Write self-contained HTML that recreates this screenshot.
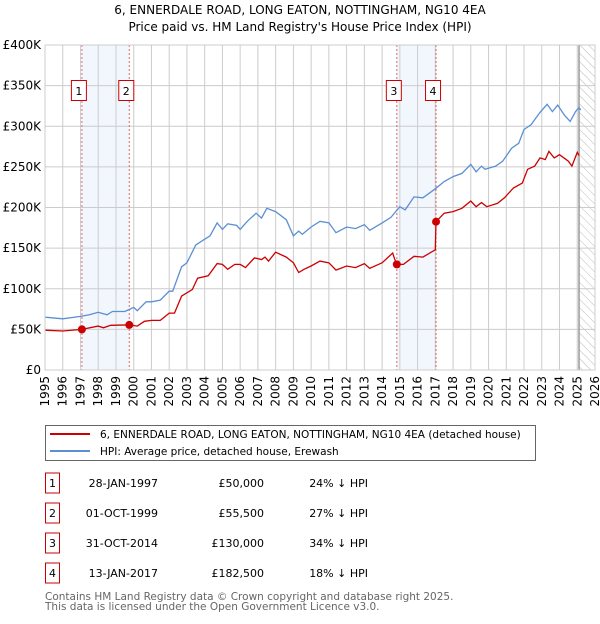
<!DOCTYPE html>
<html><head><meta charset="utf-8">
<style>
body{margin:0;background:#fff;font-family:"DejaVu Sans","Liberation Sans",sans-serif;}
svg text{font-family:"DejaVu Sans","Liberation Sans",sans-serif;}
</style></head>
<body>
<svg id="chart" width="600" height="620" xmlns="http://www.w3.org/2000/svg">
<defs>
<pattern id="hatch" width="6" height="6" patternUnits="userSpaceOnUse" patternTransform="rotate(-45)">
<line x1="0" y1="0" x2="0" y2="6" stroke="#bbb" stroke-width="1"/>
</pattern>
</defs>
<text x="300" y="14" text-anchor="middle" font-size="12" fill="#000">6, ENNERDALE ROAD, LONG EATON, NOTTINGHAM, NG10 4EA</text>
<text x="300" y="31" text-anchor="middle" font-size="12" fill="#000">Price paid vs. HM Land Registry's House Price Index (HPI)</text>
<g id="plot"></g>
<g>
<rect x="45.5" y="425.5" width="490" height="35" fill="#fff" stroke="#666"/>
<line x1="50" y1="434" x2="90" y2="434" stroke="#cc0000" stroke-width="2"/>
<text x="100" y="438" font-size="10.5">6, ENNERDALE ROAD, LONG EATON, NOTTINGHAM, NG10 4EA (detached house)</text>
<line x1="50" y1="451" x2="90" y2="451" stroke="#5b8fd4" stroke-width="2"/>
<text x="100" y="455" font-size="10.5">HPI: Average price, detached house, Erewash</text>
</g>
<g id="table" font-size="11"></g>
<text x="45" y="600" font-size="10.5" fill="#666">Contains HM Land Registry data © Crown copyright and database right 2025.</text>
<text x="45" y="610" font-size="10.5" fill="#666">This data is licensed under the Open Government Licence v3.0.</text>
</svg>
<script>
const yTicks=[0,50,100,150,200,250,300,350,400];
const yTickLabels=["£0","£50K","£100K","£150K","£200K","£250K","£300K","£350K","£400K"];
const xYears=[1995,1996,1997,1998,1999,2000,2001,2002,2003,2004,2005,2006,2007,2008,2009,2010,2011,2012,2013,2014,2015,2016,2017,2018,2019,2020,2021,2022,2023,2024,2025,2026];
const hpiT=[1995,1996,1997,1997.5,1998,1998.5,1998.8,1999.5,2000,2000.2,2000.7,2001,2001.5,2002,2002.2,2002.7,2003,2003.5,2004,2004.3,2004.7,2005,2005.3,2005.8,2006,2006.4,2006.9,2007.2,2007.5,2008,2008.6,2009,2009.3,2009.5,2010,2010.5,2011,2011.4,2012,2012.5,2013,2013.3,2014,2014.5,2015,2015.3,2015.8,2016.3,2017,2017.5,2018,2018.5,2019,2019.3,2019.6,2019.8,2020.4,2020.8,2021.3,2021.7,2022,2022.4,2022.9,2023.3,2023.6,2023.9,2024.3,2024.6,2024.9,2025.1,2025.2];
const hpiV=[65,63,66,68,71,68,72,72,77,73,84,84,86,97,97,127,132,154,161,165,181,173,180,178,173,183,193,187,199,195,185,165,171,167,176,183,181,169,176,174,179,172,181,188,201,197,213,212,223,232,238,242,253,244,251,247,251,257,273,279,296,302,317,327,318,326,313,306,318,323,320];
const propT=[1995,1996,1997.08,1998,1998.3,1998.7,1999.75,2000.2,2000.6,2001,2001.5,2002,2002.3,2002.7,2003.3,2003.6,2004.2,2004.7,2005,2005.3,2005.7,2006,2006.3,2006.8,2007.2,2007.4,2007.6,2008,2008.6,2009,2009.3,2009.6,2010,2010.5,2011,2011.4,2012,2012.5,2013,2013.3,2014,2014.6,2014.7,2014.83,2015.2,2015.8,2016.3,2017.0,2017.04,2017.5,2018,2018.5,2019,2019.3,2019.6,2019.9,2020.5,2020.9,2021.4,2021.9,2022.2,2022.6,2022.9,2023.2,2023.4,2023.7,2024,2024.5,2024.7,2025.0,2025.1];
const propV=[49,48,50,54,52,55,55.5,54,60,61,61,70,70,91,99,113,116,131,130,124,130,130,126,138,136,139,134,145,139,132,120,124,128,134,132,123,128,126,131,125,132,144,137,130,130,140,139,148,182.5,193,195,199,208,201,206,201,205,212,224,230,247,251,261,259,269,261,265,257,251,268,264];
const saleT=[1997.08,1999.75,2014.83,2017.04];
const saleV=[50,55.5,130,182.5];
const saleDates=["28-JAN-1997","01-OCT-1999","31-OCT-2014","13-JAN-2017"];
const salePrices=["£50,000","£55,500","£130,000","£182,500"];
const saleDiffs=["24% ↓ HPI","27% ↓ HPI","34% ↓ HPI","18% ↓ HPI"];

const X0=45,X1=595,Y0=370,Y1=45;
const xs=t=>X0+(t-1995)/(2026-1995)*(X1-X0);
const ys=v=>Y0-v/400*(Y0-Y1);
const NS="http://www.w3.org/2000/svg";
const plot=document.getElementById('plot');
function mk(tag,attrs,parent){const e=document.createElementNS(NS,tag);for(const k in attrs)e.setAttribute(k,attrs[k]);(parent||plot).appendChild(e);return e;}

for(let i=0;i<4;i+=2){
  const r=mk('rect',{x:xs(saleT[i]),y:Y1,width:xs(saleT[i+1])-xs(saleT[i]),height:Y0-Y1,fill:'#eef3fc',opacity:0.75});
  
  
}
const hz=mk('rect',{x:xs(2025.1),y:Y1,width:X1-xs(2025.1),height:Y0-Y1,fill:'url(#hatch)'});


yTicks.forEach((v,i)=>{
  const l=mk('line',{x1:X0,x2:X1,y1:ys(v),y2:ys(v),stroke:'#ccc','stroke-width':1});
  
  
  const t=mk('text',{x:X0-4,y:ys(v)+4,'text-anchor':'end','font-size':12,fill:'#000'});
  t.textContent=yTickLabels[i];
  
  
});
xYears.forEach(y=>{
  const l=mk('line',{x1:xs(y),x2:xs(y),y1:Y1,y2:Y0,stroke:'#ccc','stroke-width':1});
  
  
  const t=mk('text',{x:0,y:0,'text-anchor':'end','font-size':12,fill:'#000',transform:`translate(${xs(y)+4},${Y0+6}) rotate(-90)`});
  t.textContent=y;
  
  
});
const nl=mk('line',{x1:xs(2025.1),x2:xs(2025.1),y1:Y1,y2:Y0,stroke:'#999','stroke-width':1.5});


saleT.forEach((t,i)=>{
  const l=mk('line',{x1:xs(t),x2:xs(t),y1:Y1,y2:Y0,stroke:'#e06666','stroke-width':1,'stroke-dasharray':'2,2'});
  
  
});
const pts=(T,V)=>T.map((t,i)=>xs(t).toFixed(1)+','+ys(V[i]).toFixed(1)).join(' ');
const h=mk('polyline',{points:pts(hpiT,hpiV),fill:'none',stroke:'#5b8fd4','stroke-width':1.3});


const p=mk('polyline',{points:pts(propT,propV),fill:'none',stroke:'#cc0000','stroke-width':1.3});


saleT.forEach((t,i)=>{
  const c=mk('circle',{cx:xs(t),cy:ys(saleV[i]),r:4,fill:'#cc0000'});
  
  
  const b=mk('rect',{x:xs(t)-10.5,y:80.5,width:15,height:20,fill:'#fff',stroke:'#cc0000'});
  
  
  const tx=mk('text',{x:xs(t)-3,y:95,'text-anchor':'middle','font-size':11});
  tx.textContent=i+1;
  
  
});
const ax=mk('rect',{x:X0,y:Y1,width:X1-X0,height:Y0-Y1,fill:'none',stroke:'#ccc'});


const tb=document.getElementById('table');
saleT.forEach((t,i)=>{
  const cy=483+i*30;
  const b=mk('rect',{x:45.5,y:cy-10,width:14,height:20,fill:'#fff',stroke:'#cc0000'},tb);
  
  
  const n=mk('text',{x:52.5,y:cy+4,'text-anchor':'middle'},tb);n.textContent=i+1;
  
  
  const d=mk('text',{x:158,y:cy+4,'text-anchor':'end'},tb);d.textContent=saleDates[i];
  
  
  const pr=mk('text',{x:264,y:cy+4,'text-anchor':'end'},tb);pr.textContent=salePrices[i];
  
  
  const df=mk('text',{x:368,y:cy+4,'text-anchor':'end'},tb);df.textContent=saleDiffs[i];
  
  
});
</script>
</body></html>
